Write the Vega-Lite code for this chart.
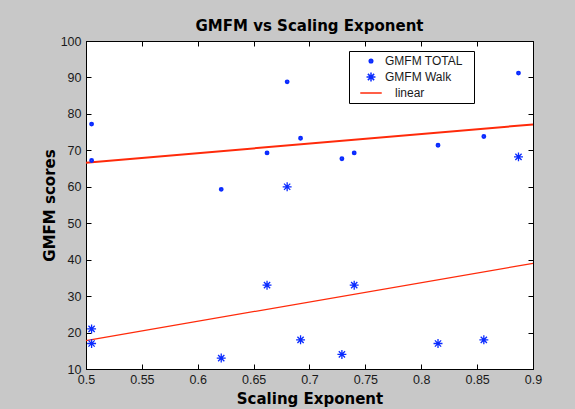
{
  "$schema": "https://vega.github.io/schema/vega-lite/v6.json",
  "autosize": {"type": "none"},
  "width": 447,
  "height": 328,
  "padding": {"left": 86, "top": 41, "right": 42, "bottom": 40},
  "background": "#c8c8c8",
  "title": {
    "text": "GMFM vs Scaling Exponent",
    "font": "DejaVu Sans",
    "fontSize": 15,
    "fontWeight": "bold",
    "color": "black",
    "offset": 1
  },
  "data": {
    "values": [
      {"x": 0.505, "y": 77.2, "series": "GMFM TOTAL"},
      {"x": 0.505, "y": 67.2, "series": "GMFM TOTAL"},
      {"x": 0.621, "y": 59.3, "series": "GMFM TOTAL"},
      {"x": 0.662, "y": 69.3, "series": "GMFM TOTAL"},
      {"x": 0.680, "y": 88.8, "series": "GMFM TOTAL"},
      {"x": 0.692, "y": 73.3, "series": "GMFM TOTAL"},
      {"x": 0.729, "y": 67.7, "series": "GMFM TOTAL"},
      {"x": 0.740, "y": 69.3, "series": "GMFM TOTAL"},
      {"x": 0.815, "y": 71.4, "series": "GMFM TOTAL"},
      {"x": 0.856, "y": 73.8, "series": "GMFM TOTAL"},
      {"x": 0.887, "y": 91.2, "series": "GMFM TOTAL"},
      {"x": 0.505, "y": 21.0, "series": "GMFM Walk"},
      {"x": 0.505, "y": 17.0, "series": "GMFM Walk"},
      {"x": 0.621, "y": 13.0, "series": "GMFM Walk"},
      {"x": 0.662, "y": 33.0, "series": "GMFM Walk"},
      {"x": 0.680, "y": 60.0, "series": "GMFM Walk"},
      {"x": 0.692, "y": 18.0, "series": "GMFM Walk"},
      {"x": 0.729, "y": 14.0, "series": "GMFM Walk"},
      {"x": 0.740, "y": 33.0, "series": "GMFM Walk"},
      {"x": 0.815, "y": 17.0, "series": "GMFM Walk"},
      {"x": 0.856, "y": 18.0, "series": "GMFM Walk"},
      {"x": 0.887, "y": 68.2, "series": "GMFM Walk"},
      {"x": 0.5, "y": 66.6, "series": "linear", "fit": "total"},
      {"x": 0.9, "y": 77.1, "series": "linear", "fit": "total"},
      {"x": 0.5, "y": 17.8, "series": "linear", "fit": "walk"},
      {"x": 0.9, "y": 39.0, "series": "linear", "fit": "walk"}
    ]
  },
  "layer": [
    {
      "transform": [{"filter": "datum.fit == 'total'"}],
      "mark": {"type": "line", "strokeWidth": 2},
      "encoding": {
        "x": {"field": "x", "type": "quantitative",
              "scale": {"domain": [0.5, 0.9], "nice": false, "zero": false},
              "axis": {"orient": "top", "labels": false, "title": null, "tickSize": -5,
                       "values": [0.5, 0.55, 0.6, 0.65, 0.7, 0.75, 0.8, 0.85, 0.9]}},
        "y": {"field": "y", "type": "quantitative",
              "scale": {"domain": [10, 100], "nice": false, "zero": false},
              "axis": {"orient": "right", "labels": false, "title": null, "tickSize": -5,
                       "values": [10, 20, 30, 40, 50, 60, 70, 80, 90, 100]}},
        "color": {"field": "series", "type": "nominal",
                  "scale": {"domain": ["GMFM TOTAL", "GMFM Walk", "linear"],
                            "range": ["#0a2bff", "#0a2bff", "#ff2a0a"]},
                  "legend": {"title": null, "orient": "none", "legendX": 263, "legendY": 10,
                             "padding": 4, "strokeColor": "black", "fillColor": "white",
                             "symbolSize": 80, "symbolStrokeWidth": 1.5, "symbolOffset": 12,
                             "labelOffset": 8, "rowPadding": 2,
                             "labelFont": "Liberation Sans", "labelFontSize": 12, "labelColor": "#1a1a1a",
                             "labelExpr": "datum.label == 'linear' ? '\u200b\u00a0\u00a0\u00a0linear\u00a0\u00a0\u200b' : datum.label + '\u00a0\u00a0\u200b'"}}
      }
    },
    {
      "transform": [{"filter": "datum.fit == 'walk'"}],
      "mark": {"type": "line", "strokeWidth": 1.2},
      "encoding": {
        "x": {"field": "x", "type": "quantitative", "axis": null},
        "y": {"field": "y", "type": "quantitative", "axis": null},
        "color": {"field": "series", "type": "nominal",
                  "legend": {"title": null, "orient": "none", "legendX": 263, "legendY": 10,
                             "padding": 4, "strokeColor": "black", "fillColor": "white",
                             "symbolSize": 80, "symbolStrokeWidth": 1.5, "symbolOffset": 12,
                             "labelOffset": 8, "rowPadding": 2,
                             "labelFont": "Liberation Sans", "labelFontSize": 12, "labelColor": "#1a1a1a",
                             "labelExpr": "datum.label == 'linear' ? '\u200b\u00a0\u00a0\u00a0linear\u00a0\u00a0\u200b' : datum.label + '\u00a0\u00a0\u200b'"}}
      }
    },
    {
      "transform": [{"filter": "datum.series != 'linear'"}],
      "mark": {"type": "point", "filled": false, "size": 80, "strokeWidth": 1.3, "opacity": 1},
      "encoding": {
        "x": {"field": "x", "type": "quantitative", "title": "Scaling Exponent",
              "axis": {"orient": "bottom", "tickSize": -5, "labelPadding": 9.5,
                       "values": [0.5, 0.55, 0.6, 0.65, 0.7, 0.75, 0.8, 0.85, 0.9],
                       "format": ".2~f", "labelFlush": false, "labelOverlap": false,
                       "titlePadding": 5}},
        "y": {"field": "y", "type": "quantitative", "title": "GMFM scores",
              "axis": {"orient": "left", "tickSize": -5, "labelPadding": 10,
                       "values": [10, 20, 30, 40, 50, 60, 70, 80, 90, 100],
                       "format": "d", "labelFlush": false, "labelOverlap": false,
                       "titlePadding": 3}},
        "color": {"field": "series", "type": "nominal",
                  "legend": {"title": null, "orient": "none", "legendX": 263, "legendY": 10,
                             "padding": 4, "strokeColor": "black", "fillColor": "white",
                             "symbolSize": 80, "symbolStrokeWidth": 1.5, "symbolOffset": 12,
                             "labelOffset": 8, "rowPadding": 2,
                             "labelFont": "Liberation Sans", "labelFontSize": 12, "labelColor": "#1a1a1a",
                             "labelExpr": "datum.label == 'linear' ? '\u200b\u00a0\u00a0\u00a0linear\u00a0\u00a0\u200b' : datum.label + '\u00a0\u00a0\u200b'"}},
        "shape": {"field": "series", "type": "nominal",
                  "scale": {"domain": ["GMFM TOTAL", "GMFM Walk", "linear"],
                            "range": ["M-0.4,0a0.4,0.4 0 1,0 0.8,0a0.4,0.4 0 1,0 -0.8,0M-0.25,0a0.25,0.25 0 1,0 0.5,0a0.25,0.25 0 1,0 -0.5,0M-0.1,0a0.1,0.1 0 1,0 0.2,0a0.1,0.1 0 1,0 -0.2,0",
                                      "M-1,0L1,0M0,-1L0,1M-0.7,-0.7L0.7,0.7M-0.7,0.7L0.7,-0.7",
                                      "M-2.4,0L2.4,0"]},
                  "legend": {"title": null, "orient": "none", "legendX": 263, "legendY": 10,
                             "padding": 4, "strokeColor": "black", "fillColor": "white",
                             "symbolSize": 80, "symbolStrokeWidth": 1.5, "symbolOffset": 12,
                             "labelOffset": 8, "rowPadding": 2,
                             "labelFont": "Liberation Sans", "labelFontSize": 12, "labelColor": "#1a1a1a",
                             "labelExpr": "datum.label == 'linear' ? '\u200b\u00a0\u00a0\u00a0linear\u00a0\u00a0\u200b' : datum.label + '\u00a0\u00a0\u200b'"}}
      }
    }
  ],
  "resolve": {"axis": {"x": "independent", "y": "independent"}},
  "config": {
    "view": {"fill": "white", "stroke": "black", "strokeWidth": 1},
    "axis": {
      "grid": false,
      "domainColor": "black",
      "domainWidth": 1,
      "tickColor": "black",
      "tickWidth": 1,
      "labelFont": "Liberation Sans",
      "labelFontSize": 12.5,
      "labelColor": "#1a1a1a",
      "titleFont": "DejaVu Sans",
      "titleFontSize": 15,
      "titleFontWeight": "bold",
      "titleColor": "black"
    }
  }
}
